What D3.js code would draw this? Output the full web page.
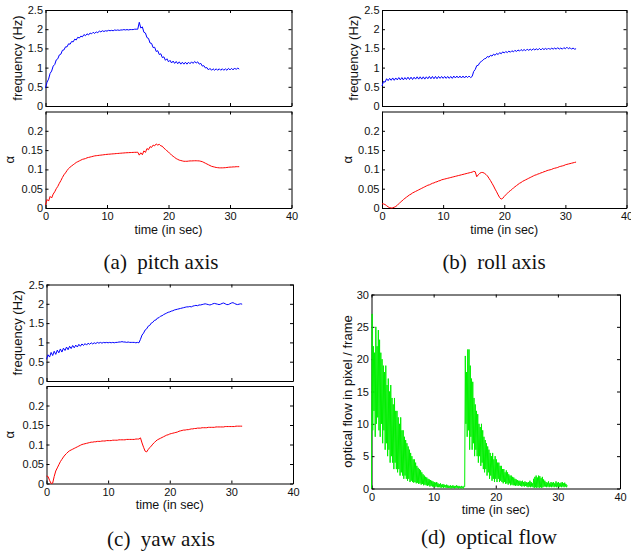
<!DOCTYPE html>
<html>
<head>
<meta charset="utf-8">
<script src="https://cdn.jsdelivr.net/npm/d3@7"></script>
<style>
  html, body { margin: 0; padding: 0; background: #fff; }
  svg { display: block; }
  .tick text { font-family: "Liberation Sans", Arial, Helvetica, sans-serif; font-size: 11px; fill: #111; }
  .tick line, .domain { stroke: #000; stroke-width: 1; }
  .lbl { font-family: "Liberation Sans", Arial, Helvetica, sans-serif; font-size: 13px; fill: #111; }
  .xlbl { font-size: 12.5px; }
  .cap { font-family: "Liberation Serif", "Times New Roman", serif; font-size: 21px; fill: #111; }
</style>
</head>
<body>
<svg id="fig" width="631" height="555"></svg>
<script>
// ---- tick values -------------------------------------------------------
const timeTicks  = [0, 10, 20, 30, 40];
const freqTicks  = [0, 0.5, 1, 1.5, 2, 2.5];
const alphaTicks = [0, 0.05, 0.1, 0.15, 0.2];
const flowTicks  = [0, 5, 10, 15, 20, 25, 30];

// ---- sampling intervals (seconds) --------------------------------------
const SAMPLE_DT = 0.25;   // frequency and alpha logs
const FLOW_DT   = 0.1;    // optical flow log

// ---- pitch axis --------------------------------------------------------
const pitchFreq = [
  0.47,0.62,0.70,0.85,0.91,1.04,1.08,1.20,1.23,1.33,1.35,1.45,1.46,1.54,1.54,1.62,
  1.61,1.68,1.67,1.74,1.72,1.79,1.77,1.82,1.80,1.86,1.83,1.88,1.85,1.90,1.88,1.92,
  1.89,1.93,1.91,1.95,1.93,1.96,1.94,1.96,1.95,1.97,1.96,1.97,1.96,1.98,1.97,1.98,
  1.97,1.98,1.98,1.99,1.98,1.99,1.98,1.99,1.99,1.99,2.00,2.00,2.00,2.18,2.03,2.06,
  1.92,1.90,1.78,1.76,1.64,1.63,1.52,1.53,1.42,1.44,1.34,1.36,1.26,1.28,1.19,1.23,
  1.15,1.19,1.12,1.17,1.11,1.16,1.10,1.15,1.09,1.14,1.09,1.14,1.09,1.14,1.10,1.15,
  1.11,1.16,1.12,1.15,1.09,1.11,1.04,1.05,0.99,1.00,0.94,0.98,0.93,0.97,0.93,0.97,
  0.93,0.97,0.93,0.97,0.93,0.97,0.93,0.98,0.94,0.98,0.94,0.99,0.95,0.99,0.96
];
const pitchAlpha = [
  0.008,0.022,0.018,0.030,0.026,0.036,0.042,0.050,0.056,0.064,0.071,0.079,0.086,0.091,0.097,0.102,
  0.106,0.109,0.112,0.115,0.118,0.120,0.122,0.124,0.126,0.127,0.128,0.130,0.131,0.132,0.133,0.134,
  0.135,0.1355,0.136,0.1365,0.137,0.1375,0.138,0.1385,0.139,0.1393,0.1396,0.140,0.1403,0.1406,0.141,0.1413,
  0.1416,0.142,0.1423,0.1426,0.143,0.1432,0.1434,0.1436,0.1438,0.144,0.1442,0.1443,0.1445,0.137,0.143,0.138,
  0.148,0.144,0.154,0.151,0.159,0.157,0.163,0.161,0.166,0.163,0.165,0.161,0.160,0.155,0.152,0.148,
  0.145,0.141,0.137,0.134,0.131,0.128,0.126,0.124,0.123,0.122,0.121,0.121,0.121,0.1215,0.122,0.122,
  0.1222,0.1224,0.1224,0.1222,0.122,0.121,0.120,0.118,0.116,0.114,0.112,0.110,0.108,0.107,0.106,0.105,
  0.1045,0.104,0.104,0.104,0.1042,0.1045,0.105,0.1055,0.106,0.106,0.1065,0.1065,0.107,0.107,0.107
];

// ---- roll axis ---------------------------------------------------------
const rollFreq = [
  0.52,0.64,0.62,0.71,0.66,0.72,0.67,0.73,0.67,0.73,0.68,0.74,0.68,0.74,0.68,0.74,
  0.69,0.75,0.69,0.75,0.69,0.75,0.70,0.76,0.70,0.76,0.70,0.76,0.70,0.76,0.71,0.77,
  0.71,0.77,0.71,0.77,0.71,0.77,0.72,0.77,0.72,0.77,0.72,0.77,0.72,0.77,0.72,0.78,
  0.73,0.78,0.73,0.78,0.73,0.78,0.73,0.78,0.74,0.78,0.74,0.77,0.90,0.95,1.05,1.06,
  1.13,1.16,1.19,1.23,1.24,1.29,1.27,1.32,1.30,1.35,1.32,1.37,1.34,1.39,1.36,1.41,
  1.38,1.42,1.39,1.43,1.40,1.44,1.41,1.45,1.42,1.46,1.43,1.47,1.44,1.47,1.44,1.48,
  1.45,1.48,1.45,1.49,1.46,1.49,1.46,1.50,1.46,1.50,1.47,1.50,1.47,1.51,1.47,1.51,
  1.48,1.51,1.48,1.52,1.48,1.51,1.48,1.52,1.49,1.53,1.49,1.52,1.48,1.51,1.48,1.49
];
const rollAlpha = [
  0.011,0.0105,0.009,0.006,0.003,0.001,0.000,0.0005,0.002,0.004,0.007,0.011,0.015,0.018,0.022,0.025,
  0.028,0.031,0.034,0.036,0.039,0.041,0.043,0.045,0.047,0.049,0.051,0.053,0.055,0.057,0.059,0.060,
  0.062,0.064,0.065,0.067,0.068,0.070,0.071,0.073,0.074,0.075,0.076,0.077,0.078,0.079,0.080,0.081,
  0.082,0.083,0.084,0.085,0.086,0.087,0.088,0.089,0.090,0.091,0.092,0.093,0.095,0.094,0.081,0.086,
  0.090,0.092,0.092,0.090,0.087,0.083,0.077,0.071,0.064,0.057,0.049,0.042,0.034,0.027,0.023,0.025,
  0.030,0.034,0.038,0.042,0.045,0.048,0.052,0.055,0.058,0.061,0.064,0.066,0.069,0.071,0.073,0.075,
  0.077,0.079,0.081,0.083,0.085,0.086,0.088,0.089,0.091,0.092,0.094,0.095,0.097,0.098,0.099,0.100,
  0.102,0.103,0.104,0.105,0.107,0.108,0.109,0.110,0.112,0.113,0.114,0.115,0.116,0.117,0.118,0.119
];

// ---- yaw axis ----------------------------------------------------------
const yawFreq = [
  0.56,0.68,0.62,0.74,0.66,0.77,0.69,0.80,0.73,0.83,0.75,0.85,0.79,0.88,0.81,0.90,
  0.84,0.92,0.86,0.93,0.88,0.95,0.90,0.96,0.92,0.97,0.93,0.98,0.95,0.99,0.96,0.99,
  0.97,1.00,0.98,1.00,0.98,1.00,0.99,1.00,0.99,1.00,0.99,1.00,0.99,1.00,1.00,1.01,
  1.01,1.02,1.01,1.01,1.00,1.01,1.00,1.00,1.00,1.00,0.99,1.00,0.99,1.08,1.19,1.24,
  1.32,1.35,1.42,1.44,1.50,1.52,1.57,1.58,1.63,1.64,1.68,1.69,1.72,1.74,1.76,1.78,
  1.79,1.81,1.82,1.84,1.85,1.86,1.87,1.88,1.89,1.90,1.91,1.92,1.92,1.93,1.92,1.94,
  1.95,1.96,1.95,1.97,1.97,1.98,1.99,2.00,1.99,1.98,1.97,1.98,2.00,2.01,2.00,1.99,
  1.98,1.99,2.01,2.02,2.00,1.98,1.98,2.00,2.02,2.03,2.01,1.99,1.98,1.99,2.00,1.99
];
const yawAlpha = [
  0.019,0.018,0.008,0.000,0.001,0.018,0.032,0.040,0.048,0.056,0.062,0.068,0.073,0.077,0.081,0.084,
  0.086,0.088,0.090,0.092,0.094,0.096,0.098,0.100,0.101,0.102,0.103,0.104,0.105,0.106,0.106,0.107,
  0.107,0.108,0.108,0.108,0.109,0.109,0.109,0.110,0.110,0.110,0.110,0.111,0.111,0.111,0.111,0.112,
  0.112,0.112,0.112,0.112,0.113,0.113,0.113,0.113,0.113,0.113,0.114,0.114,0.114,0.117,0.104,0.093,
  0.083,0.081,0.087,0.092,0.096,0.101,0.105,0.109,0.112,0.114,0.116,0.118,0.120,0.122,0.124,0.125,
  0.127,0.128,0.129,0.130,0.131,0.132,0.134,0.135,0.136,0.137,0.137,0.138,0.138,0.139,0.140,0.140,
  0.141,0.141,0.142,0.142,0.142,0.143,0.143,0.143,0.143,0.144,0.144,0.144,0.144,0.144,0.145,0.145,
  0.145,0.145,0.145,0.145,0.146,0.146,0.146,0.146,0.146,0.146,0.146,0.147,0.147,0.147,0.147,0.147
];

// ---- optical flow (pixel / frame) --------------------------------------
const opticalFlow = [
  0,27,9,22,12,21,8,25,10,22,
  11,24.5,9,23,8,21,10,20,7,19,
  9,18,6,19,7,16,5,17,6,15,
  4,16,5,14,4,13,3,14,4,12,
  3,12,2.5,11,3,10,2,11,2.5,9,
  2,9,1.5,8,2,7.5,1.5,7,1.2,6.5,
  1.5,6,1,5.5,1.2,5,1,4.5,0.9,4.5,
  1,4,0.8,3.5,0.9,3.2,0.7,3,0.8,2.8,
  0.6,2.5,0.7,2.2,0.5,2,0.6,1.8,0.5,1.7,
  0.4,1.5,0.5,1.4,0.3,1.3,0.4,1.2,0.3,1.1,
  0.3,1,0.2,0.9,0.3,1,0.2,0.8,0.2,0.7,
  0.2,0.8,0.1,0.6,0.2,0.7,0.1,0.6,0.2,0.5,
  0.1,0.6,0.1,0.5,0.1,0.4,0.1,0.5,0,0.4,
  0.1,0.5,0.1,0.4,0,0.4,0.1,0.5,0.1,0.4,
  0,0.4,0.1,0.3,0,0.4,0.1,0.3,0,0.4,
  0.3,20.5,10,18,8,21.5,9,21.5,6,19,
  8,17,6,16.5,7,14,5,13,6,12,
  5,11.5,4,10,5,9.5,3.5,10,4,9,
  3,8,2.5,7.5,3,7,2,6.5,2.5,6,
  1.5,5.5,2,5,1.2,5.5,1.5,4.5,1,5,
  1.5,4.5,1,4,1.5,4,1,3.5,1.2,3.5,
  1,3,0.8,3,1,2.5,0.7,2.8,0.8,2.5,
  0.6,2.2,0.8,2,0.5,2,0.6,1.8,0.5,1.7,
  0.5,1.5,0.4,1.4,0.5,1.3,0.4,1.2,0.5,1.2,
  0.4,1.1,0.3,1.2,0.4,1,0.3,1.1,0.4,1,
  0.3,0.9,0.2,1,0.3,1.2,0.2,1,0.3,0.8,
  0.2,1.5,0.1,1.8,0.2,2,0.1,1.7,0.2,2,
  0.1,1.9,0.2,1.6,0.1,1.8,0.2,1.4,0.3,1.2,
  0.3,1,0.2,0.9,0.3,1.1,0.2,0.8,0.3,1,
  0.2,0.9,0.3,1,0.2,0.8,0.3,1.1,0.2,0.9,
  0.3,1,0.2,0.8,0.3,0.9,0.2,1,0.3,0.8,
  0.2,0.9,0.3,0.7,0.2,0.5
];

// ---- captions / labels -------------------------------------------------
const captions   = ["(a)  pitch axis", "(b)  roll axis", "(c)  yaw axis", "(d)  optical flow"];
const freqLabel  = "frequency (Hz)";
const alphaLabel = "\u03b1";
const timeLabel  = "time (in sec)";
const flowLabel  = "optical flow in pixel / frame";

const COLORS = { freq: "#0000ff", alpha: "#ff0000", flow: "#00f000" };

const svg = d3.select("#fig");

// One MATLAB-style axes box: ticks pointing inward on all four sides.
function drawAxes(cfg) {
  const x = d3.scaleLinear().domain([0, 40]).range([cfg.x0, cfg.x1]);
  const y = d3.scaleLinear().domain(cfg.yDomain).range([cfg.y1, cfg.y0]);
  const g = svg.append("g");
  const fmt = d => String(d);

  g.append("g").attr("transform", `translate(0,${cfg.y1})`)
    .call(d3.axisBottom(x).tickValues(timeTicks).tickSizeInner(-3).tickSizeOuter(0)
      .tickPadding(4.2).tickFormat(cfg.xLabels ? fmt : () => ""));
  g.append("g").attr("transform", `translate(0,${cfg.y0})`)
    .call(d3.axisTop(x).tickValues(timeTicks).tickSizeInner(-3).tickSizeOuter(0).tickFormat(() => ""));
  g.append("g").attr("transform", `translate(${cfg.x0},0)`)
    .call(d3.axisLeft(y).tickValues(cfg.yTicks).tickSizeInner(-3).tickSizeOuter(0)
      .tickPadding(2.5).tickFormat(fmt));
  g.append("g").attr("transform", `translate(${cfg.x1},0)`)
    .call(d3.axisRight(y).tickValues(cfg.yTicks).tickSizeInner(-3).tickSizeOuter(0).tickFormat(() => ""));

  const line = d3.line()
    .x((d, i) => x(i * cfg.dt))
    .y(d => y(d));
  g.append("path")
    .datum(cfg.values)
    .attr("fill", "none")
    .attr("stroke", cfg.color)
    .attr("stroke-width", 1)
    .attr("stroke-linejoin", "round")
    .attr("d", line);

  // rotated y label
  g.append("text").attr("class", "lbl")
    .attr("text-anchor", "middle")
    .attr("transform", `translate(${cfg.ylabX},${(cfg.y0 + cfg.y1) / 2}) rotate(-90)`)
    .text(cfg.ylabel);

  if (cfg.xLabels) {
    g.append("text").attr("class", "lbl xlbl")
      .attr("text-anchor", "middle")
      .attr("x", (cfg.x0 + cfg.x1) / 2)
      .attr("y", cfg.xlabY)
      .text(timeLabel);
  }
}

function caption(text, cx, baseline) {
  svg.append("text").attr("class", "cap")
    .attr("text-anchor", "middle")
    .attr("x", cx).attr("y", baseline)
    .style("white-space", "pre")
    .text(text);
}

// (a) pitch
drawAxes({ x0: 45.5, x1: 291.5, y0: 10, y1: 106, yDomain: [0, 2.5], yTicks: freqTicks,
  values: pitchFreq, dt: SAMPLE_DT, color: COLORS.freq, ylabel: freqLabel, ylabX: 22, xLabels: false });
drawAxes({ x0: 45.5, x1: 291.5, y0: 111.5, y1: 208, yDomain: [0, 0.25], yTicks: alphaTicks,
  values: pitchAlpha, dt: SAMPLE_DT, color: COLORS.alpha, ylabel: alphaLabel, ylabX: 14, xLabels: true, xlabY: 233.5 });
caption(captions[0], 161, 268.5);

// (b) roll
drawAxes({ x0: 382, x1: 626.5, y0: 10, y1: 106, yDomain: [0, 2.5], yTicks: freqTicks,
  values: rollFreq, dt: SAMPLE_DT, color: COLORS.freq, ylabel: freqLabel, ylabX: 357.5, xLabels: false });
drawAxes({ x0: 382, x1: 626.5, y0: 111.5, y1: 208, yDomain: [0, 0.25], yTicks: alphaTicks,
  values: rollAlpha, dt: SAMPLE_DT, color: COLORS.alpha, ylabel: alphaLabel, ylabX: 351.5, xLabels: true, xlabY: 233.5 });
caption(captions[1], 494, 269);

// (c) yaw
drawAxes({ x0: 46.5, x1: 293, y0: 284.5, y1: 381, yDomain: [0, 2.5], yTicks: freqTicks,
  values: yawFreq, dt: SAMPLE_DT, color: COLORS.freq, ylabel: freqLabel, ylabX: 22, xLabels: false });
drawAxes({ x0: 46.5, x1: 293, y0: 386, y1: 483.5, yDomain: [0, 0.25], yTicks: alphaTicks,
  values: yawAlpha, dt: SAMPLE_DT, color: COLORS.alpha, ylabel: alphaLabel, ylabX: 14, xLabels: true, xlabY: 509 });
caption(captions[2], 161, 545.5);

// (d) optical flow
drawAxes({ x0: 371.5, x1: 620, y0: 294.5, y1: 488.5, yDomain: [0, 30], yTicks: flowTicks,
  values: opticalFlow, dt: FLOW_DT, color: COLORS.flow, ylabel: flowLabel, ylabX: 351.5, xLabels: true, xlabY: 514 });
caption(captions[3], 489, 544.3);
</script>
</body>
</html>
